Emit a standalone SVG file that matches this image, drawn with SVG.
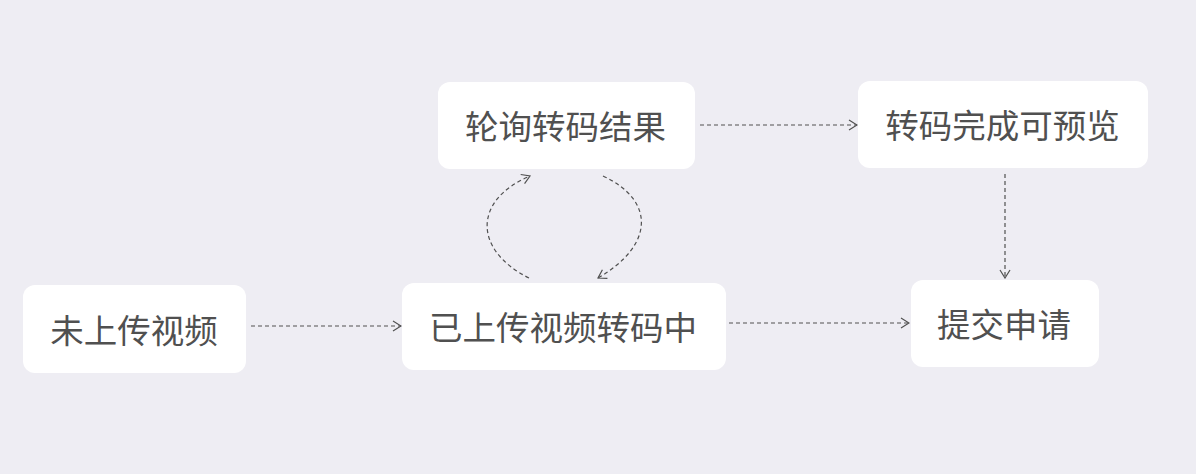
<svg xmlns="http://www.w3.org/2000/svg" width="1196" height="474" viewBox="0 0 1196 474">
  <defs>
    <marker id="arrow" viewBox="0 0 10 12" refX="9" refY="6" markerWidth="10" markerHeight="12" markerUnits="userSpaceOnUse" orient="auto">
      <path d="M1,1 L9,6 L1,11" fill="none" stroke="#505050" stroke-width="1.2"/>
    </marker>
    <style>
      .box { fill: #ffffff; }
      .label { font-family: "Noto Sans CJK SC", "Noto Sans", sans-serif; font-size: 33.5px; fill: #505050; text-anchor: middle; dominant-baseline: central; }
      .link { fill: none; stroke: #505050; stroke-width: 1.2; stroke-dasharray: 4 3; marker-end: url(#arrow); }
    </style>
  </defs>
  <rect width="1196" height="474" fill="#eeedf3"/>

  <g id="node-not-uploaded">
    <rect class="box" x="23" y="285" width="223" height="88" rx="12"/>
    <text class="label" x="134" y="328">未上传视频</text>
  </g>
  <g id="node-transcoding">
    <rect class="box" x="402" y="283" width="324" height="87" rx="12"/>
    <text class="label" x="563" y="325">已上传视频转码中</text>
  </g>
  <g id="node-polling">
    <rect class="box" x="438" y="82" width="257" height="87" rx="12"/>
    <text class="label" x="565.5" y="124.5">轮询转码结果</text>
  </g>
  <g id="node-preview">
    <rect class="box" x="858" y="81" width="290" height="87" rx="12"/>
    <text class="label" x="1002.5" y="123.5">转码完成可预览</text>
  </g>
  <g id="node-submit">
    <rect class="box" x="911" y="280" width="188" height="87" rx="12"/>
    <text class="label" x="1004" y="322.5">提交申请</text>
  </g>

  <g id="connectors">
    <path class="link" d="M251,326 L401,326"/>
    <path class="link" d="M729,323 L909,323"/>
    <path class="link" d="M700,125 L857,125"/>
    <path class="link" d="M1005,174 L1005,278"/>
    <path class="link" d="M529,278 C473,250 473,200 530,176"/>
    <path class="link" d="M603,176 C655,200 655,245 598,278"/>
  </g>
</svg>
